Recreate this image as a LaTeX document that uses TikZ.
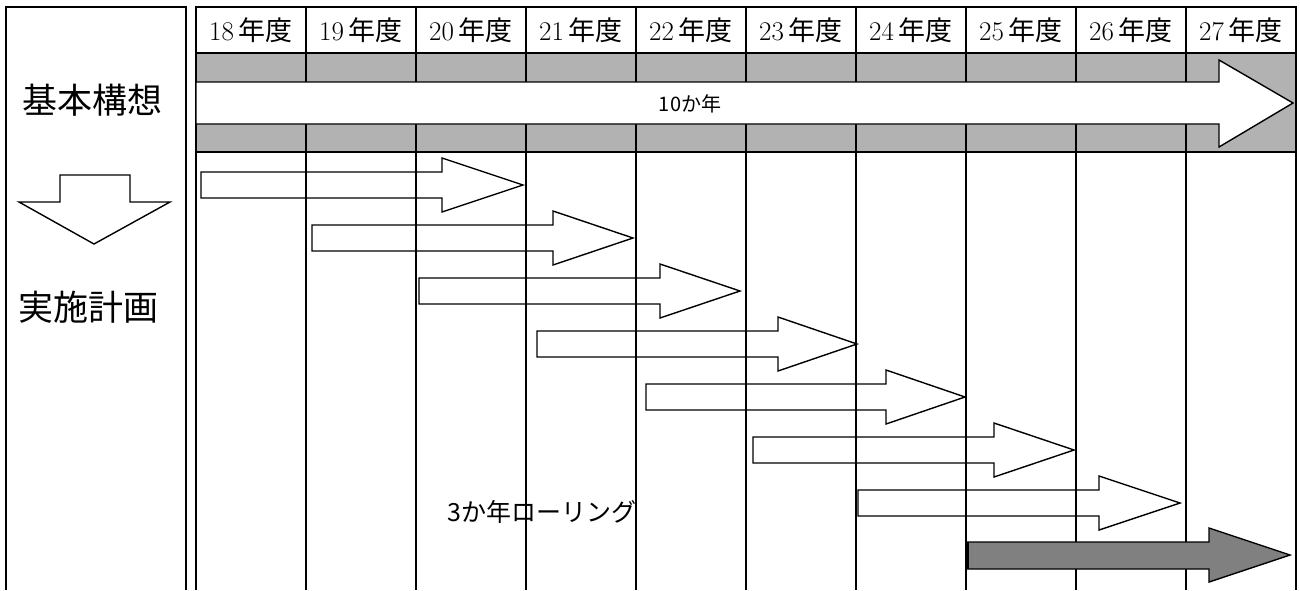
\documentclass[tikz,border=0pt]{standalone}
\usepackage{fontspec}
\newfontfamily\jp{Noto Sans CJK JP}
\definecolor{bandgray}{RGB}{178,178,178}
\definecolor{darkarrow}{RGB}{128,128,128}
\begin{document}
\begin{tikzpicture}[x=1pt,y=-1pt,
  grid/.style={line width=1.8pt},
  outl/.style={line width=1.4pt, line join=miter},
  hdr/.style={inner sep=0pt, font=\fontsize{27}{30}\selectfont},
  bigjp/.style={inner sep=0pt, font=\jp\fontsize{35}{40}\selectfont},
  midjp/.style={inner sep=0pt, font=\jp\fontsize{20}{24}\selectfont},
  rolljp/.style={inner sep=0pt, font=\jp\fontsize{25}{28}\selectfont}]
\useasboundingbox (0,0) rectangle (1300,590);
% gray band of the basic plan row
\fill[bandgray] (196,53) rectangle (1296,152);
% column lines
\foreach \x in {306,416,526,636,746,856,966,1076,1186}
  \draw[grid] (\x,7) -- (\x,590);
% table borders
\draw[grid] (196,590) -- (196,7) -- (1296,7) -- (1296,590);
\draw[grid] (196,53) -- (1296,53);
\draw[grid] (196,152) -- (1296,152);
% left panel
\draw[grid] (6,590) -- (6,7) -- (186,7) -- (186,590);
% headers
\foreach \yr [count=\i from 0] in {18,...,27}
  \node[hdr] (h\yr) at ({251+110*\i},30) {\yr\hspace{0.18em}{\jp 年度}};
% 10-year arrow
\draw[outl, fill=white] (196,82) -- (1219,82) -- (1219,60) -- (1293,103) -- (1219,147) -- (1219,124) -- (196,124) -- cycle;
\node[midjp] (ten) at (690,104) {10か年};
% left labels and down arrow
\node[bigjp] (kihon) at (92,100) {基本構想};
\draw[outl, fill=white] (60,175) -- (130,175) -- (130,202) -- (170,202) -- (94,244) -- (19,202) -- (60,202) -- cycle;
\node[bigjp] (jisshi) at (88,307) {実施計画};
% 3-year rolling arrows
\foreach \l/\h/\t/\c in {201/442/523/185, 312/553/633/238, 419/660/740/291, 537/778/857/344, 646/886/965/397, 753/994/1074/450, 858/1099/1180/503}
  \draw[outl] (\l,{\c-13}) -- (\h,{\c-13}) -- (\h,{\c-27}) -- (\t,\c) -- (\h,{\c+27}) -- (\h,{\c+13}) -- (\l,{\c+13}) -- cycle;
\node[rolljp] (roll) at (542,512) {3か年ローリング};
% current (dark) arrow
\draw[outl, fill=darkarrow] (967,542) -- (1209,542) -- (1209,528) -- (1290,555) -- (1209,582) -- (1209,569) -- (967,569) -- cycle;
\draw[line width=2.5pt] (968,542) -- (968,569);
\end{tikzpicture}
\end{document}
